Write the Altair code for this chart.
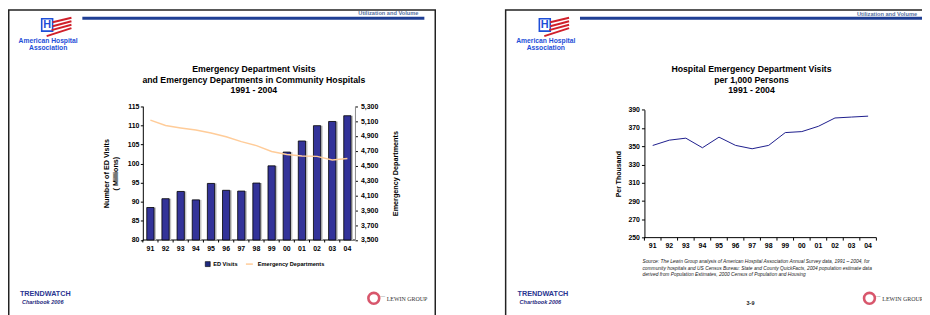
import altair as alt
import pandas as pd

# ---------------- data ----------------
years = ["91", "92", "93", "94", "95", "96", "97", "98", "99", "00", "01", "02", "03", "04"]
ed_visits = [88.5, 90.8, 92.7, 90.5, 94.8, 93.0, 92.8, 94.9, 99.4, 103.0, 105.9, 109.9, 111.0, 112.5]
ed_departments = [5112, 5040, 5008, 4980, 4940, 4889, 4823, 4770, 4690, 4650, 4630, 4625, 4575, 4595]
visits_per_1000 = [350.9, 356.7, 358.9, 348.4, 360.0, 351.0, 347.3, 351.0, 365.0, 366.1, 371.9, 381.0, 382.0, 383.0]

visits_ticks = [80, 85, 90, 95, 100, 105, 110, 115]
dept_ticks = [3500, 3700, 3900, 4100, 4300, 4500, 4700, 4900, 5100, 5300]
rate_ticks = [250, 270, 290, 310, 330, 350, 370, 390]

left_title = ["Emergency Department Visits",
              "and Emergency Departments in Community Hospitals",
              "1991 - 2004"]
right_title = ["Hospital Emergency Department Visits", "per 1,000 Persons", "1991 - 2004"]
source_lines = [
    "Source:  The Lewin Group analysis of American Hospital Association Annual Survey data, 1991 \u2013 2004, for",
    "community hospitals and US Census Bureau:  State and County QuickFacts, 2004 population estimate data",
    "derived from Population Estimates, 2000 Census of Population and Housing",
]

df_left = pd.DataFrame({"year": years, "visits": ed_visits, "depts": ed_departments})
df_right = pd.DataFrame({"year": years, "rate": visits_per_1000})
one = pd.DataFrame({"k": [0]})

# ---------------- layout (canvas pixels) ----------------
W, H = 922, 307
SANS = "Liberation Sans"
SERIF = "Liberation Serif"
BLUE = "#1E4FD8"
NAVY = "#1F3F94"

LX0, LX1 = 136, 350
LY0, LY1 = 232.7, 97.7
RX0, RX1 = 642, 876
RY0, RY1 = 230.3, 101.3


def text(s, x, y, size, bold=True, color="black", align="center", italic=False, font=SANS):
    return alt.Chart(one).mark_text(
        text=s, fontSize=size, fontWeight="bold" if bold else "normal",
        fontStyle="italic" if italic else "normal", color=color, align=align,
        baseline="middle", font=font,
    ).encode(x=alt.value(x), y=alt.value(y))


def rect(x, x2, y, y2, **kw):
    return alt.Chart(one).mark_rect(**kw).encode(
        x=alt.value(x), x2=alt.value(x2), y=alt.value(y), y2=alt.value(y2))


def rule(x, y, x2, y2, **kw):
    return alt.Chart(one).mark_rule(**kw).encode(
        x=alt.value(x), x2=alt.value(x2), y=alt.value(y), y2=alt.value(y2))


def aha_logo(ox):
    parts = [rect(ox, ox + 11, 9.5, 22, fill="white", stroke=BLUE, strokeWidth=1.6),
             text("H", ox + 5.5, 16, 11, color=BLUE)]
    stripes = [(11, 13, 30, 8.5), (11, 17, 30, 12), (10, 21, 30, 15.5), (5, 27, 30, 19)]
    for (a, b, c, d) in stripes:
        parts.append(rule(ox + a, b, ox + c, d, color="#D0202A", strokeWidth=2))
    parts.append(text("American Hospital", ox + 6.5, 32, 6.8, color=BLUE))
    parts.append(text("Association", ox + 6.5, 39, 6.8, color=BLUE))
    return parts


def lewin_logo(cx):
    return [
        alt.Chart(one).mark_point(shape="circle", size=120, filled=False, color="#C8102E",
                                  strokeWidth=2.6).encode(x=alt.value(cx), y=alt.value(291.5)),
        text("THE", cx + 9, 289.5, 2.6, bold=False, color="#444", font=SERIF),
        text("LEWIN GROUP", cx + 13, 292, 6, bold=False, color="#333", align="left", font=SERIF),
    ]


def trendwatch(ox):
    return [
        text("TRENDWATCH", ox, 287, 7.3, color="#2A3590", align="left"),
        text("Chartbook 2006", ox + 2, 295.5, 5.6, color="#1F2A80", align="left", italic=True),
    ]


deco = []
# slide frames
deco.append(rect(0.75, 431, 0.75, 330, fillOpacity=0, stroke="#222", strokeWidth=1.5))
deco.append(rect(502, 980, 0.75, 330, fillOpacity=0, stroke="#222", strokeWidth=1.5))
# header bars and labels
deco.append(rect(75, 420, 7.5, 10.5, fill=NAVY))
deco.append(rect(577, 922, 7.5, 10.5, fill=NAVY))
deco.append(text("Utilization and Volume", 414, 4, 5.7, color="#56709E", align="right"))
deco.append(text("Utilization and Volume", 917, 4.5, 5.7, color="#56709E", align="right"))
deco += aha_logo(34) + aha_logo(536)
# titles
for i, yy in enumerate([60, 71.5, 81.5]):
    deco.append(text(left_title[i], 248, yy, 8.8))
    deco.append(text(right_title[i], 750, yy, 8.8))
# legend (left)
deco.append(rect(199, 204, 254.5, 259.5, fill="#1F2A80", stroke="black", strokeWidth=0.6))
deco.append(text("ED Visits", 207, 257, 5.7, align="left"))
deco.append(rule(240, 257, 247, 257, color="#FFCC99", strokeWidth=1.5))
deco.append(text("Emergency Departments", 252, 257, 5.7, align="left"))
# source note (right)
for i, yy in enumerate([255, 261.5, 268]):
    deco.append(text(source_lines[i], 640, yy, 4.9, bold=False, italic=True, color="#222", align="left"))
deco.append(text("3-9", 749, 296, 5.5, color="#222"))
deco += trendwatch(12) + trendwatch(514)
deco += lewin_logo(369) + lewin_logo(869)
# category-axis base lines
deco.append(rule(LX0, LY0, LX1, LY0, color="black", strokeWidth=1))
deco.append(rule(RX0, RY0, RX1, RY0, color="black", strokeWidth=1))

# ---------------- left chart: bars + line ----------------
lx_scale = alt.Scale(domain=years, range=[LX0, LX1], paddingInner=0.52, paddingOuter=0.26)
shadow_scale = alt.Scale(domain=years, range=[LX0 + 2, LX1 + 2], paddingInner=0.52, paddingOuter=0.26)
cat_scale = alt.Scale(domain=years, range=[LX0, LX1], paddingInner=0, paddingOuter=0)
vis_scale = alt.Scale(domain=[80, 115], range=[LY0, LY1], nice=False, zero=False)
vis_axis = alt.Axis(orient="left", offset=-LX0, values=visits_ticks, tickSize=2.5, labelPadding=1.5,
                    labelFontSize=7, labelFontWeight="bold", domainColor="black", tickColor="black",
                    title=["Number of ED Visits", "( Millions)"], titleFontSize=7.3,
                    titleFontWeight="bold", titlePadding=8, titleLineHeight=8.5)
dep_scale = alt.Scale(domain=[3500, 5300], range=[LY0, LY1], nice=False, zero=False)
dep_axis = alt.Axis(orient="right", offset=LX1 - W, values=dept_ticks, format=",.0f", tickSize=2.5,
                    labelPadding=3, labelFontSize=7, labelFontWeight="bold", domainColor="#8a8a8a",
                    tickColor="black", title="Emergency Departments", titleAngle=270,
                    titleBaseline="top", titleFontSize=7.3, titleFontWeight="bold", titlePadding=14)

shadow = alt.Chart(df_left).mark_bar(color="#c4c4c4").encode(
    x=alt.X("year:N", sort=years, scale=shadow_scale, axis=None),
    y=alt.Y("visits:Q", scale=vis_scale, axis=None),
    y2=alt.datum(80),
)
bars = alt.Chart(df_left).mark_bar(color="#333399", stroke="black", strokeWidth=0.8).encode(
    x=alt.X("year:N", sort=years, scale=lx_scale, axis=None),
    y=alt.Y("visits:Q", scale=vis_scale, axis=vis_axis),
    y2=alt.datum(80),
)
dep_line = alt.Chart(df_left).mark_line(color="#FFCC99", strokeWidth=1.5).encode(
    x=alt.X("year:N", sort=years, scale=lx_scale, axis=None),
    y=alt.Y("depts:Q", scale=dep_scale, axis=dep_axis),
)
left_ticks = alt.Chart(df_left).mark_rule(color="black", strokeWidth=1).encode(
    x=alt.X("year:N", sort=years, scale=cat_scale, axis=None, bandPosition=0),
    y=alt.value(LY0), y2=alt.value(LY0 + 2.5),
)
left_labels = alt.Chart(df_left).mark_text(
    font=SANS, fontSize=7, fontWeight="bold", color="black", baseline="middle"
).encode(
    x=alt.X("year:N", sort=years, scale=cat_scale, axis=None),
    y=alt.value(241.3),
    text="year:N",
)

# ---------------- right chart: line ----------------
rx_scale = alt.Scale(domain=years, range=[RX0, RX1], paddingInner=0, paddingOuter=0)
rate_scale = alt.Scale(domain=[250, 390], range=[RY0, RY1], nice=False, zero=False)
rate_axis = alt.Axis(orient="left", offset=-RX0, values=rate_ticks, tickSize=3, labelPadding=2,
                     labelFontSize=7, labelFontWeight="bold", domainColor="black", tickColor="black",
                     title="Per Thousand", titleFontSize=7, titleFontWeight="bold", titlePadding=6)

rate_line = alt.Chart(df_right).mark_line(color="#1C1C8C", strokeWidth=1).encode(
    x=alt.X("year:N", sort=years, scale=rx_scale, axis=None),
    y=alt.Y("rate:Q", scale=rate_scale, axis=rate_axis),
)
right_ticks = alt.Chart(df_right).mark_rule(color="black", strokeWidth=1).encode(
    x=alt.X("year:N", sort=years, scale=rx_scale, axis=None, bandPosition=0),
    y=alt.value(RY0), y2=alt.value(RY0 + 3),
)
right_end_tick = alt.Chart(df_right).transform_filter(
    alt.FieldEqualPredicate(field="year", equal=years[-1])
).mark_rule(color="black", strokeWidth=1).encode(
    x=alt.X("year:N", sort=years, scale=rx_scale, axis=None, bandPosition=1),
    y=alt.value(RY0), y2=alt.value(RY0 + 3),
)
right_labels = alt.Chart(df_right).mark_text(
    font=SANS, fontSize=7, fontWeight="bold", color="black", baseline="middle"
).encode(
    x=alt.X("year:N", sort=years, scale=rx_scale, axis=None),
    y=alt.value(238.7),
    text="year:N",
)

chart = alt.layer(
    *deco, shadow, bars, dep_line, left_ticks, left_labels,
    rate_line, right_ticks, right_end_tick, right_labels,
).resolve_scale(
    x="independent", y="independent"
).properties(
    width=W, height=H, autosize=alt.AutoSizeParams(type="none"), padding=0
).configure_axis(
    grid=False, labelFont=SANS, titleFont=SANS, labelColor="black", titleColor="black"
).configure_view(strokeWidth=0)

chart.save("out.html", embed_options={"renderer": "svg", "actions": False})
